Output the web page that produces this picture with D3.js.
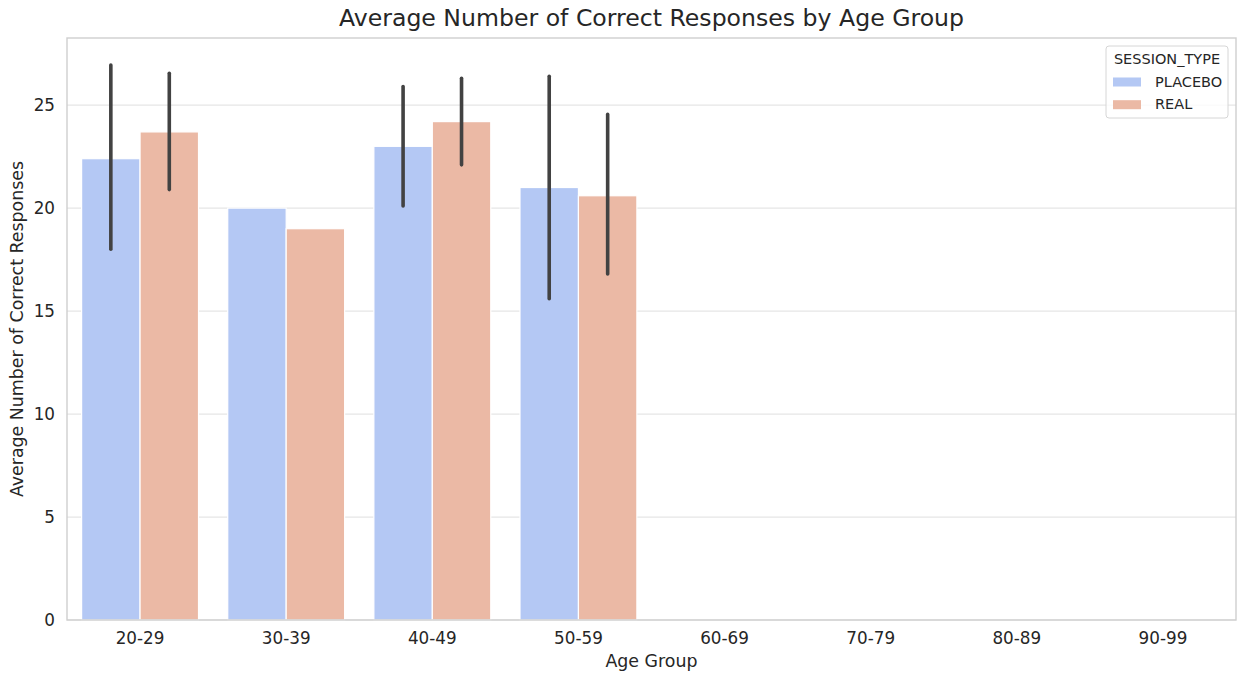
<!DOCTYPE html>
<html lang="en">
<head>
    <meta charset="UTF-8">
    <title>Average Number of Correct Responses by Age Group</title>
    <script src="https://cdn.jsdelivr.net/npm/d3@7"></script>
    <style>
        body { margin: 0; background: #fff; }
        svg { display: block; font-family: "DejaVu Sans", sans-serif; }
    </style>
</head>
<body>
<script type="text/javascript">
    // data
    const ageGroups = ["20-29", "30-39", "40-49", "50-59", "60-69", "70-79", "80-89", "90-99"];
    const sessionTypes = ["PLACEBO", "REAL"];
    const placeboMean = [22.4, 20.0, 23.0, 21.0, null, null, null, null];
    const realMean = [23.7, 19.0, 24.2, 20.6, null, null, null, null];
    const placeboLow = [18.0, null, 20.1, 15.6, null, null, null, null];
    const placeboHigh = [26.95, null, 25.9, 26.4, null, null, null, null];
    const realLow = [20.9, null, 22.1, 16.8, null, null, null, null];
    const realHigh = [26.55, null, 26.3, 24.55, null, null, null, null];
    const yTicks = [0, 5, 10, 15, 20, 25];

    const colors = {PLACEBO: "#b4c8f4", REAL: "#ebb9a5"};

    const width = 1241, height = 673;
    const margin = {left: 67, right: 5, top: 38, bottom: 53};

    const rows = [];
    ageGroups.forEach((g, i) => {
        rows.push({group: g, type: "PLACEBO", mean: placeboMean[i], lo: placeboLow[i], hi: placeboHigh[i]});
        rows.push({group: g, type: "REAL", mean: realMean[i], lo: realLow[i], hi: realHigh[i]});
    });
    const bars = rows.filter(d => d.mean != null);

    const svg = d3.select("body").append("svg")
        .attr("width", width)
        .attr("height", height);

    const x = d3.scaleBand()
        .domain(ageGroups)
        .range([margin.left, width - margin.right]);

    const xHue = d3.scaleBand()
        .domain(sessionTypes)
        .range([x.bandwidth() * 0.1, x.bandwidth() * 0.9]);

    const y = d3.scaleLinear()
        .domain([0, 28.26])
        .range([height - margin.bottom, margin.top]);

    // grid
    svg.append("g")
        .selectAll("line")
        .data(yTicks)
        .join("line")
        .attr("x1", margin.left)
        .attr("x2", width - margin.right)
        .attr("y1", d => y(d))
        .attr("y2", d => y(d))
        .attr("stroke", "#e6e6e6")
        .attr("stroke-width", 1.2);

    // bars
    svg.append("g")
        .selectAll("rect")
        .data(bars)
        .join("rect")
        .attr("x", d => x(d.group) + xHue(d.type))
        .attr("y", d => y(d.mean))
        .attr("width", xHue.bandwidth())
        .attr("height", d => y(0) - y(d.mean))
        .attr("fill", d => colors[d.type])
        .attr("stroke", "#fff")
        .attr("stroke-width", 1.2);

    // error bars
    svg.append("g")
        .selectAll("line")
        .data(bars.filter(d => d.lo != null))
        .join("line")
        .attr("x1", d => x(d.group) + xHue(d.type) + xHue.bandwidth() / 2)
        .attr("x2", d => x(d.group) + xHue(d.type) + xHue.bandwidth() / 2)
        .attr("y1", d => y(d.lo))
        .attr("y2", d => y(d.hi))
        .attr("stroke", "#424242")
        .attr("stroke-width", 3.6)
        .attr("stroke-linecap", "round");

    // frame
    svg.append("rect")
        .attr("x", margin.left)
        .attr("y", margin.top)
        .attr("width", width - margin.right - margin.left)
        .attr("height", height - margin.bottom - margin.top)
        .attr("fill", "none")
        .attr("stroke", "#cfcfcf")
        .attr("stroke-width", 1.4);

    // axes
    const xAxis = svg.append("g")
        .attr("transform", `translate(0,${height - margin.bottom})`)
        .call(d3.axisBottom(x).tickSize(0).tickPadding(12));
    const yAxis = svg.append("g")
        .attr("transform", `translate(${margin.left},0)`)
        .call(d3.axisLeft(y).tickValues(yTicks).tickSize(0).tickPadding(12));
    [xAxis, yAxis].forEach(a => {
        a.select(".domain").remove();
        a.selectAll("text")
            .attr("fill", "#262626")
            .style("font-size", "16.8px")
            .style("font-family", "DejaVu Sans, sans-serif");
    });

    svg.append("text")
        .attr("x", (margin.left + width - margin.right) / 2)
        .attr("y", 26)
        .attr("text-anchor", "middle")
        .attr("fill", "#262626")
        .style("font-size", "23.6px")
        .text("Average Number of Correct Responses by Age Group");

    svg.append("text")
        .attr("x", (margin.left + width - margin.right) / 2)
        .attr("y", 667)
        .attr("text-anchor", "middle")
        .attr("fill", "#262626")
        .style("font-size", "17.4px")
        .text("Age Group");

    svg.append("text")
        .attr("transform", `translate(23,${(margin.top + height - margin.bottom) / 2}) rotate(-90)`)
        .attr("text-anchor", "middle")
        .attr("fill", "#262626")
        .style("font-size", "17.4px")
        .text("Average Number of Correct Responses");

    // legend
    const lg = svg.append("g").attr("transform", "translate(1106,46)");
    lg.append("rect")
        .attr("width", 122)
        .attr("height", 72)
        .attr("rx", 3)
        .attr("fill", "#fff")
        .attr("fill-opacity", 0.8)
        .attr("stroke", "#d6d6d6");
    lg.append("text")
        .attr("x", 61)
        .attr("y", 17.5)
        .attr("text-anchor", "middle")
        .attr("fill", "#262626")
        .style("font-size", "14.5px")
        .text("SESSION_TYPE");
    const items = lg.selectAll("g.item")
        .data(sessionTypes)
        .join("g")
        .attr("class", "item")
        .attr("transform", (d, i) => `translate(0,${i * 22.7})`);
    items.append("rect")
        .attr("x", 7)
        .attr("y", 31.5)
        .attr("width", 28)
        .attr("height", 9)
        .attr("fill", d => colors[d]);
    items.append("text")
        .attr("x", 49)
        .attr("y", 40.5)
        .attr("fill", "#262626")
        .style("font-size", "14.5px")
        .text(d => d);
</script>
</body>
</html>
